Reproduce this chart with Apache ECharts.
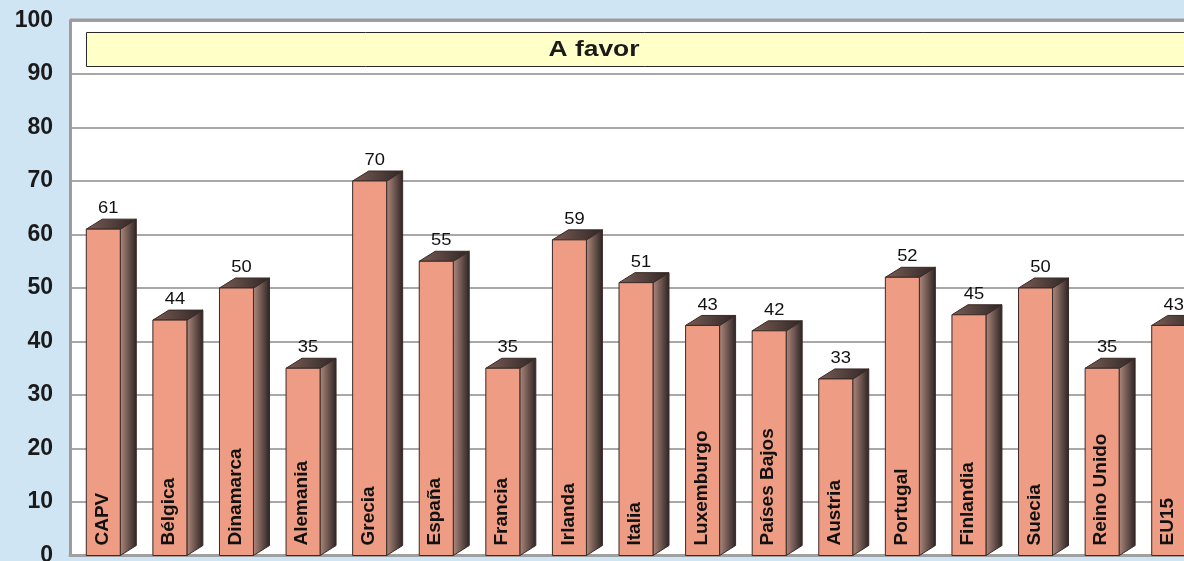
<!DOCTYPE html>
<html>
<head>
<meta charset="utf-8">
<script src="https://cdn.jsdelivr.net/npm/echarts@6/dist/echarts.min.js"></script>
<style>
html,body{margin:0;padding:0;background:#d0e5f3;overflow:hidden;width:1184px;height:561px;}
#chart{width:1202px;height:561px;}
</style>
</head>
<body>
<div id="chart"></div>
<script>
const categories = ['CAPV','Bélgica','Dinamarca','Alemania','Grecia','España','Francia','Irlanda','Italia','Luxemburgo','Países Bajos','Austria','Portugal','Finlandia','Suecia','Reino Unido','EU15'];
const values = [61,44,50,35,70,55,35,59,51,43,42,33,52,45,50,35,43];
const titleText = 'A favor';

const chart = echarts.init(document.getElementById('chart'), null, {renderer:'canvas', width:1202, height:561});

const FRONT_W = 34, DX = 16, DY = 10;

function renderItem(params, api) {
  const top = api.coord([api.value(0), api.value(1)]);
  const base = api.coord([api.value(0), 0]);
  const left = top[0] - FRONT_W / 2;
  const t = top[1], b = base[1];
  const r = left + FRONT_W;
  const edge = '#3a2a26';
  return {
    type: 'group',
    children: [
      { type: 'polygon', shape: { points: [[r, t], [r + DX, t - DY], [r + DX, b - DY], [r, b]] },
        style: { fill: new echarts.graphic.LinearGradient(0, 0, 1, 0, [
          {offset:0, color:'#b08a7e'}, {offset:0.5, color:'#6e5650'}, {offset:1, color:'#2a2222'}]),
          stroke: edge, lineWidth: 1 } },
      { type: 'polygon', shape: { points: [[left, t], [left + DX, t - DY], [r + DX, t - DY], [r, t]] },
        style: { fill: new echarts.graphic.LinearGradient(0, 0, 1, 0, [
          {offset:0, color:'#7a5c54'}, {offset:1, color:'#2e2626'}]),
          stroke: edge, lineWidth: 1 } },
      { type: 'rect', shape: { x: left, y: t, width: FRONT_W, height: b - t },
        style: { fill: '#ee9c84', stroke: edge, lineWidth: 1 } },
      { type: 'text', x: left + (FRONT_W + DX) / 2 - 3, y: t - DY - 2, scaleX: 1.08,
        style: { text: String(api.value(1)), fill: '#111', font: '17px "Liberation Sans", Arial, sans-serif',
          align: 'center', verticalAlign: 'bottom' } },
      { type: 'text', x: left + FRONT_W / 2 - 1, y: b - 10, rotation: Math.PI / 2,
        style: { text: categories[params.dataIndex], fill: '#111', font: 'bold 19px "Liberation Sans", Arial, sans-serif',
          align: 'left', verticalAlign: 'middle' } }
    ]
  };
}

chart.setOption({
  backgroundColor: '#d0e5f3',
  animation: false,
  grid: { left: 70, top: 20.5, bottom: 5.5, right: 0, outerBoundsMode: 'none', containLabel: false,
    show: true, backgroundColor: '#ffffff', borderWidth: 0 },
  xAxis: {
    type: 'category', data: categories,
    axisLine: { show: true, lineStyle: { color: '#a0a0a0', width: 3 } },
    axisTick: { show: false }, axisLabel: { show: false }, splitLine: { show: false }
  },
  yAxis: {
    type: 'value', min: 0, max: 100, interval: 10,
    axisLine: { show: true, lineStyle: { color: '#9c9c9c', width: 3 } },
    axisTick: { show: false },
    axisLabel: { margin: 17, color: '#1a1a1a', fontSize: 23, fontWeight: 'bold', fontFamily: '"Liberation Sans", Arial, sans-serif' },
    splitLine: { lineStyle: { color: '#a8a8a8', width: 2 } }
  },
  graphic: [
    { type: 'line', shape: { x1: 70, y1: 20, x2: 1202, y2: 20 }, style: { stroke: '#9c9c9c', lineWidth: 3 }, z: 5 },
    { type: 'rect', shape: { x: 86.5, y: 32.5, width: 1120, height: 34 },
      style: { fill: '#ffffc8', stroke: '#2a2a2a', lineWidth: 1 }, z: 5 },
    { type: 'text', x: 594, y: 50, scaleX: 1.2,
      style: { text: titleText, fill: '#1a1a1a', font: 'bold 22px "Liberation Sans", Arial, sans-serif', align: 'center', verticalAlign: 'middle' }, z: 6 }
  ],
  series: [{
    type: 'custom',
    renderItem: renderItem,
    encode: { x: 0, y: 1 },
    data: values.map((v, i) => [i, v]),
    clip: false
  }]
});
</script>
</body>
</html>
